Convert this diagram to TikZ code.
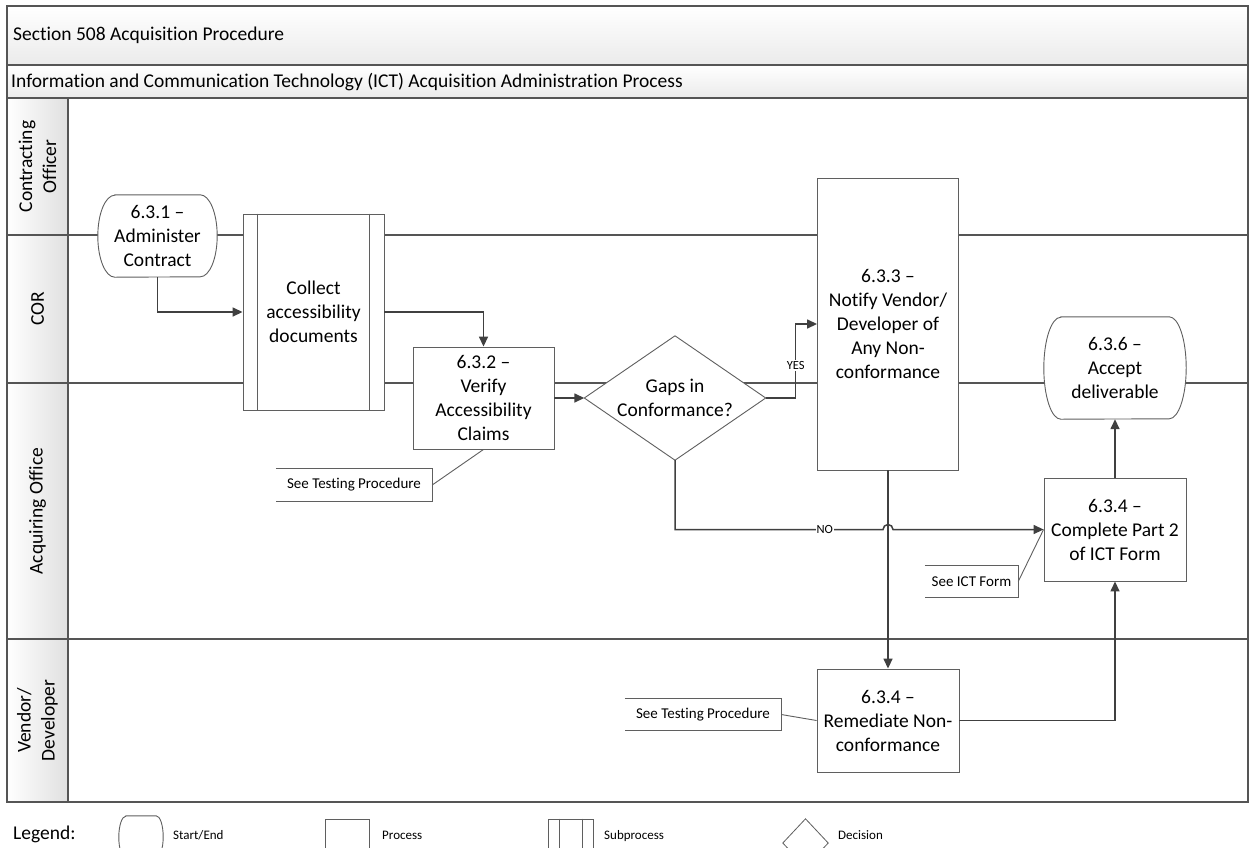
\documentclass[tikz,border=0pt]{standalone}
\usepackage{fontspec}
\setmainfont{Carlito}[Ligatures=NoCommon]
\usetikzlibrary{arrows.meta}
\definecolor{lineC}{RGB}{64,64,64}
\definecolor{frameC}{RGB}{85,85,85}
\definecolor{nodeC}{RGB}{95,95,95}
\pgfdeclarelayer{lanes}
\pgfdeclarelayer{shapes}
\pgfsetlayers{lanes,shapes,main}
\newcommand\sedraw[3]{\draw[nodeline,fill=white] ([xshift=#2]#1.north west) -- ([xshift=-#2]#1.north east) arc[start angle=90,end angle=-90,x radius=#2,y radius=#3] -- ([xshift=#2]#1.south west) arc[start angle=270,end angle=90,x radius=#2,y radius=#3] -- cycle;}
\begin{document}
\begin{tikzpicture}[x=1pt,y=-1pt,
  every node/.style={font=\fontsize{19.5}{24}\selectfont, text=black},
  nodeline/.style={draw=nodeC, line width=0.9pt},
  lane/.style={draw=frameC, line width=1.6pt},
  hdr/.style={draw=frameC, line width=1.6pt, left color=white, right color=black!12},
  band/.style={draw=frameC, line width=1.6pt, top color=white, bottom color=black!8},
  invis/.style={draw=none, align=center, inner sep=2pt},
  procbox/.style={nodeline, fill=white, align=center, inner sep=2pt},
  conn/.style={draw=lineC, line width=1.5pt},
  arr/.style={conn, -{Triangle[length=10pt,width=9pt]}},
  lbl/.style={font=\fontsize{12.5}{14}\selectfont, fill=white, inner sep=1pt},
  annot/.style={draw=none, inner sep=0pt, font=\fontsize{15}{18}\selectfont},
  annline/.style={draw=nodeC, line width=0.9pt},
  small/.style={font=\fontsize{13}{15}\selectfont, inner sep=0pt, anchor=base west},
  legline/.style={draw=nodeC, line width=0.8pt, fill=white}
]
\useasboundingbox (0,0) rectangle (1249,847);

% ---------- swimlanes ----------
\begin{pgfonlayer}{lanes}
\fill[white] (0,0) rectangle (1249,847);
\draw[band] (7,6) rectangle (1248,65);
\draw[band] (7,65) rectangle (1248,98);
\draw[hdr] (7,98) rectangle (68,235);
\draw[hdr] (7,235) rectangle (68,383);
\draw[hdr] (7,383) rectangle (68,639);
\draw[hdr] (7,639) rectangle (68,802);
\draw[lane] (68,235) -- (1248,235);
\draw[lane] (68,383) -- (1248,383);
\draw[lane] (68,639) -- (1248,639);
\draw[lane] (7,98) rectangle (1248,802);
\end{pgfonlayer}

\node[anchor=west, inner sep=0pt] (title) at (13,35) {Section 508 Acquisition Procedure};
\node[anchor=west, inner sep=0pt] (sub) at (11,82) {Information and Communication Technology (ICT) Acquisition Administration Process};
\node[rotate=90, align=center, inner sep=0pt] (l1) at (37.5,166.5) {Contracting\\Officer};
\node[rotate=90, align=center, inner sep=0pt] (l2) at (37.5,309) {COR};
\node[rotate=90, align=center, inner sep=0pt] (l3) at (37.5,511) {Acquiring Office};
\node[rotate=90, align=center, inner sep=0pt] (l4) at (37.5,720.5) {Vendor/\\Developer};

% ---------- nodes ----------
\node[invis, minimum width=119pt, minimum height=82pt] (n631) at (157.5,236) {6.3.1 --\\Administer\\Contract};
\node[procbox, minimum width=141pt, minimum height=196pt] (collect) at (313.5,312) {Collect\\accessibility\\documents};
\draw[nodeline] ([xshift=14.5pt]collect.north west) -- ([xshift=14.5pt]collect.south west);
\draw[nodeline] ([xshift=-15.5pt]collect.north east) -- ([xshift=-15.5pt]collect.south east);
\node[procbox, minimum width=141pt, minimum height=102pt] (n632) at (483.5,398) {6.3.2 --\\Verify\\Accessibility\\Claims};
\node[invis, minimum width=181pt, minimum height=124pt] (dec) at (675,398) {Gaps in\\Conformance?};
\node[procbox, minimum width=141pt, minimum height=292pt] (n633) at (888,324) {6.3.3 --\\Notify Vendor/\\Developer of\\Any Non-\\conformance};
\node[invis, minimum width=142pt, minimum height=102pt] (n636) at (1115,368) {6.3.6 --\\Accept\\deliverable};
\node[procbox, minimum width=142pt, minimum height=103pt] (n634c) at (1115,529.5) {6.3.4 --\\Complete Part 2\\of ICT Form};
\node[procbox, minimum width=142pt, minimum height=103pt] (n634r) at (888,720.5) {6.3.4 --\\Remediate Non-\\conformance};

\begin{pgfonlayer}{shapes}
\sedraw{n631}{17pt}{41pt}
\sedraw{n636}{17pt}{51pt}
\draw[nodeline, fill=white] (dec.north) -- (dec.east) -- (dec.south) -- (dec.west) -- cycle;
\end{pgfonlayer}

% ---------- annotations ----------
\node[annot, minimum width=156pt, minimum height=32pt] (ann1) at (354,485) {See Testing Procedure};
\draw[annline] (ann1.north west) -- (ann1.north east) -- (ann1.south east) -- (ann1.south west);
\draw[annline] (ann1.east) -- (n632.south);
\node[annot, minimum width=156pt, minimum height=31pt] (ann2) at (703,714.5) {See Testing Procedure};
\draw[annline] (ann2.north west) -- (ann2.north east) -- (ann2.south east) -- (ann2.south west);
\draw[annline] (ann2.east) -- (n634r.west);
\node[annot, minimum width=93pt, minimum height=31pt] (ann3) at (971.5,581.5) {See ICT Form};
\draw[annline] (ann3.north west) -- (ann3.north east) -- (ann3.south east) -- (ann3.south west);
\draw[annline] (ann3.east) -- (n634c.west);

% ---------- connectors ----------
\draw[arr] (n631.south) |- (collect.west);
\draw[arr] (collect.east) -| (n632.north);
\draw[arr] (n632.east) -- (dec.west);
\draw[arr] (dec.east) -- ++(30,0) |- (n633.west) node[pos=0.22, lbl] {YES};
\draw[arr] (n633.south) -- (n634r.north);
\coordinate (hopL) at (883,529.5);
\draw[arr] (dec.south) |- (hopL) node[pos=0.86, lbl] {NO} arc[start angle=180, end angle=0, radius=5pt] -- (n634c.west);
\draw[arr] (n634r.east) -| (n634c.south);
\draw[arr] (n634c.north) -- (n636.south);

% ---------- legend ----------
\node[anchor=west, inner sep=0pt] (leg) at (13,834) {Legend:};
\node[invis, minimum width=44pt, minimum height=42pt] (lse) at (141,837) {};
\sedraw{lse}{7pt}{21pt}
\node[small] (lset) at (173,839.5) {Start/End};
\node[legline, minimum width=44pt, minimum height=46pt, inner sep=0pt] (lpr) at (347,842) {};
\node[small] (lprt) at (382,839.5) {Process};
\node[legline, minimum width=45pt, minimum height=46pt, inner sep=0pt] (lsp) at (570.5,842) {};
\draw[draw=nodeC, line width=0.8pt] ([xshift=12pt]lsp.north west) -- ([xshift=12pt]lsp.south west);
\draw[draw=nodeC, line width=0.8pt] ([xshift=-11pt]lsp.north east) -- ([xshift=-11pt]lsp.south east);
\node[small] (lspt) at (604,839.5) {Subprocess};
\node[invis, minimum width=45pt, minimum height=48pt] (ldc) at (805.5,843) {};
\draw[legline] (ldc.north) -- (ldc.east) -- (ldc.south) -- (ldc.west) -- cycle;
\node[small] (ldct) at (838,839.5) {Decision};
\end{tikzpicture}
\end{document}
